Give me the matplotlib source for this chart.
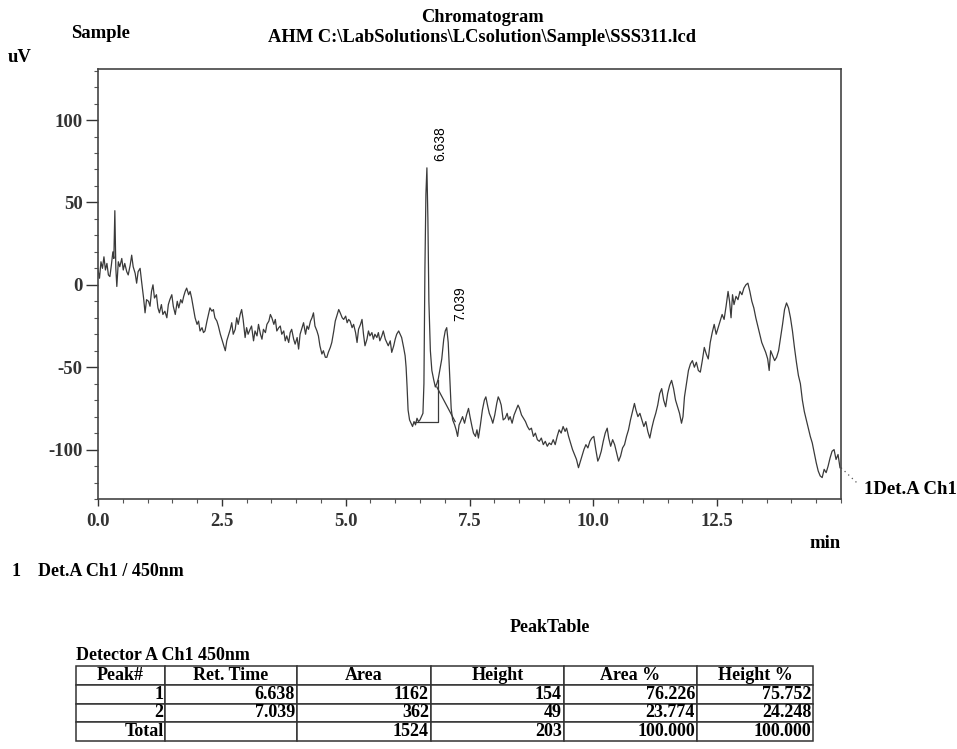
import numpy as np
import matplotlib
matplotlib.use("Agg")
import matplotlib.pyplot as plt
from matplotlib.ticker import MultipleLocator, FormatStrFormatter

plt.rcParams['font.family'] = ['Liberation Serif', 'DejaVu Serif']
plt.rcParams['font.weight'] = 'bold'

# chromatogram trace (min, uV)
t = [0.00, 0.03, 0.06, 0.09, 0.12, 0.15, 0.18, 0.21, 0.24, 0.27, 0.30, 0.32, 0.34, 0.36, 0.38,
     0.41, 0.44, 0.48, 0.51, 0.54, 0.58, 0.61, 0.65, 0.68, 0.71, 0.75, 0.78, 0.81, 0.85, 0.88,
     0.92, 0.95, 0.98, 1.02, 1.05, 1.08, 1.11, 1.14, 1.18, 1.21, 1.24, 1.28, 1.31, 1.35, 1.39,
     1.42, 1.45, 1.49, 1.52, 1.56, 1.60, 1.63, 1.67, 1.70, 1.73, 1.76, 1.79, 1.83, 1.86, 1.89,
     1.93, 1.96, 2.00, 2.03, 2.06, 2.10, 2.13, 2.16, 2.20, 2.23, 2.26, 2.30, 2.33, 2.36, 2.40,
     2.43, 2.47, 2.50, 2.54, 2.57, 2.60, 2.64, 2.67, 2.70, 2.73, 2.77, 2.80, 2.83, 2.87, 2.90,
     2.93, 2.97, 3.00, 3.03, 3.07, 3.10, 3.14, 3.17, 3.21, 3.24, 3.28, 3.31, 3.34, 3.38, 3.41,
     3.45, 3.48, 3.51, 3.55, 3.58, 3.61, 3.65, 3.68, 3.71, 3.75, 3.78, 3.81, 3.85, 3.88, 3.91,
     3.95, 3.98, 4.02, 4.05, 4.08, 4.12, 4.15, 4.19, 4.22, 4.25, 4.29, 4.32, 4.35, 4.38, 4.42,
     4.45, 4.48, 4.52, 4.55, 4.59, 4.62, 4.65, 4.69, 4.72, 4.76, 4.79, 4.83, 4.86, 4.89, 4.93,
     4.96, 5.00, 5.03, 5.06, 5.09, 5.13, 5.16, 5.20, 5.23, 5.26, 5.30, 5.33, 5.36, 5.39, 5.43,
     5.46, 5.49, 5.53, 5.56, 5.59, 5.63, 5.66, 5.69, 5.73, 5.76, 5.80, 5.83, 5.86, 5.90, 5.93,
     5.97, 6.00, 6.03, 6.07, 6.10, 6.13, 6.17, 6.20, 6.22, 6.24, 6.26, 6.29, 6.32, 6.35, 6.38,
     6.41, 6.44, 6.47, 6.50, 6.53, 6.56, 6.58, 6.60, 6.62, 6.64, 6.66, 6.68, 6.71, 6.74, 6.78,
     6.81, 6.84, 6.87, 6.90, 6.94, 6.98, 7.01, 7.04, 7.07, 7.10, 7.13, 7.16, 7.20, 7.23, 7.26,
     7.29, 7.32, 7.36, 7.40, 7.44, 7.48, 7.51, 7.55, 7.58, 7.62, 7.65, 7.68, 7.72, 7.76, 7.80,
     7.83, 7.87, 7.90, 7.94, 7.97, 8.01, 8.05, 8.08, 8.11, 8.14, 8.18, 8.22, 8.26, 8.29, 8.32,
     8.36, 8.40, 8.44, 8.48, 8.51, 8.55, 8.59, 8.63, 8.67, 8.71, 8.75, 8.79, 8.83, 8.87, 8.91,
     8.95, 8.99, 9.03, 9.07, 9.11, 9.15, 9.19, 9.23, 9.27, 9.31, 9.35, 9.39, 9.43, 9.46, 9.50,
     9.54, 9.58, 9.62, 9.66, 9.70, 9.73, 9.77, 9.81, 9.85, 9.89, 9.93, 9.97, 10.01, 10.05, 10.09,
     10.12, 10.16, 10.20, 10.24, 10.28, 10.31, 10.35, 10.39, 10.43, 10.47, 10.51, 10.55, 10.59, 10.63, 10.67,
     10.71, 10.75, 10.79, 10.83, 10.86, 10.90, 10.94, 10.98, 11.02, 11.06, 11.10, 11.14, 11.18, 11.22, 11.26,
     11.30, 11.34, 11.38, 11.42, 11.46, 11.50, 11.54, 11.58, 11.62, 11.66, 11.70, 11.74, 11.78, 11.81, 11.84,
     11.88, 11.92, 11.96, 12.00, 12.04, 12.08, 12.12, 12.16, 12.20, 12.24, 12.28, 12.32, 12.36, 12.40, 12.44,
     12.48, 12.52, 12.56, 12.60, 12.64, 12.68, 12.72, 12.75, 12.78, 12.81, 12.84, 12.88, 12.92, 12.96, 13.00,
     13.04, 13.08, 13.12, 13.16, 13.20, 13.24, 13.28, 13.32, 13.36, 13.40, 13.44, 13.48, 13.52, 13.55, 13.58,
     13.62, 13.66, 13.70, 13.74, 13.78, 13.82, 13.86, 13.90, 13.94, 13.98, 14.02, 14.06, 14.10, 14.14, 14.18,
     14.22, 14.26, 14.30, 14.34, 14.38, 14.42, 14.46, 14.50, 14.54, 14.58, 14.62, 14.66, 14.70, 14.74, 14.78,
     14.82, 14.86, 14.90, 14.94, 14.98]
uv = [9, 4, 14, 10, 17, 9, 13, 6, 5, 12, 20, 16, 45, 10, -1,
      14, 11, 16, 9, 13, 8, 6, 12, 18, 11, 7, 1, 8, 10, 2,
      -8, -17, -9, -10, -13, -4, 0, -8, -6, -14, -17, -12, -18, -16, -20,
      -12, -9, -6, -13, -18, -10, -14, -9, -11, -7, -4, -2, -6, -4, -8,
      -15, -20, -24, -22, -28, -26, -29, -28, -22, -18, -14, -16, -15, -20, -22,
      -25, -30, -33, -37, -40, -34, -30, -27, -23, -30, -27, -20, -24, -18, -15,
      -21, -32, -26, -30, -27, -25, -34, -28, -31, -24, -30, -33, -27, -29, -24,
      -22, -18, -20, -24, -21, -28, -26, -25, -30, -28, -34, -31, -35, -29, -27,
      -33, -36, -32, -39, -30, -26, -23, -30, -25, -27, -22, -20, -17, -25, -28,
      -31, -37, -42, -40, -44, -44, -41, -38, -35, -28, -22, -18, -15, -17, -20,
      -21, -19, -23, -21, -22, -26, -24, -29, -35, -27, -24, -21, -30, -37, -33,
      -28, -31, -29, -33, -30, -32, -29, -34, -31, -28, -33, -35, -37, -34, -41,
      -37, -33, -30, -28, -30, -32, -38, -43, -50, -62, -76, -82, -84, -86, -83,
      -85, -81, -83, -82, -80, -78, -60, 10, 55, 71, 40, -10, -40, -52, -58,
      -62, -60, -57, -52, -45, -33, -28, -26, -35, -55, -75, -82, -85, -88, -92,
      -85, -83, -80, -84, -79, -75, -80, -86, -90, -92, -88, -93, -85, -76, -70,
      -68, -74, -78, -81, -84, -79, -72, -68, -70, -73, -82, -81, -78, -82, -80,
      -84, -79, -76, -73, -75, -79, -81, -83, -86, -88, -87, -92, -90, -94, -95,
      -93, -97, -95, -98, -96, -97, -94, -97, -92, -88, -90, -86, -89, -87, -92,
      -96, -100, -103, -106, -111, -108, -104, -100, -97, -99, -95, -93, -92, -100, -107,
      -105, -101, -95, -90, -87, -93, -98, -94, -97, -102, -107, -104, -99, -97, -92,
      -88, -82, -77, -72, -76, -80, -78, -82, -86, -83, -89, -93, -87, -82, -78,
      -73, -66, -63, -70, -74, -66, -61, -58, -63, -70, -74, -78, -84, -80, -68,
      -60, -52, -48, -46, -50, -47, -52, -53, -46, -38, -42, -45, -35, -29, -24,
      -30, -26, -22, -18, -21, -13, -4, -10, -20, -6, -12, -7, -9, -4, -6,
      -2, 0, 1, -4, -10, -14, -20, -25, -30, -35, -38, -41, -45, -52, -40,
      -43, -46, -44, -40, -32, -24, -15, -11, -14, -20, -28, -38, -47, -55, -60,
      -70, -77, -82, -87, -92, -96, -102, -108, -113, -116, -117, -112, -114, -110, -105,
      -101, -100, -106, -103, -111]

# integration baselines
base1_t = [6.40, 6.87, 6.87]
base1_v = [-83, -83, -58]
base2_t = [6.84, 7.21]
base2_v = [-62, -83]

# peak table
peak_no = ["1", "2"]
ret_time = ["6.638", "7.039"]
apex_uv = [71, -26]
area = [1162, 362]
height = [154, 49]
area_pct = [76.226, 23.774]
height_pct = [75.752, 24.248]

W, H = 957, 749
fig = plt.figure(figsize=(W / 100, H / 100), dpi=100)


def fx(px):
    return px / W


def fy(py):
    return 1 - py / H


ax = fig.add_axes([fx(98), fy(499), fx(841) - fx(98), fy(69) - fy(499)])
ax.plot(t, uv, color='#3a3a3a', lw=0.9)
ax.plot(base1_t, base1_v, color='#3a3a3a', lw=0.9)
ax.plot(base2_t, base2_v, color='#3a3a3a', lw=0.9)
ax.plot([15.0, 15.35], [-111, -121], color='#555555', lw=0.9, ls=(0, (1, 3)), clip_on=False)

for rt, v in zip(ret_time, apex_uv):
    ax.text(float(rt) + 0.27, v + 4, rt, rotation=90, ha='center', va='bottom',
            fontsize=10, family='Liberation Sans', fontweight='normal')

ax.set_xlim(0, 15.0)
ax.set_ylim(-130, 131)
ax.xaxis.set_major_locator(MultipleLocator(2.5))
ax.xaxis.set_minor_locator(MultipleLocator(0.5))
ax.yaxis.set_major_locator(MultipleLocator(50))
ax.yaxis.set_minor_locator(MultipleLocator(10))
ax.xaxis.set_major_formatter(FormatStrFormatter('%.1f'))
ax.yaxis.set_major_formatter(FormatStrFormatter('%d'))
ax.set_xticks([0, 2.5, 5, 7.5, 10, 12.5])
ax.tick_params(which='major', direction='out', length=5, width=1, colors='#333333',
               labelsize=13.5, pad=5)
ax.tick_params(which='minor', direction='out', length=3, width=0.8, colors='#555555')
ax.tick_params(axis='y', which='major', length=9, pad=2)
for lab in ax.get_xticklabels() + ax.get_yticklabels():
    lab.set_fontweight('bold')
for s in ax.spines.values():
    s.set_color('#444444')
    s.set_linewidth(1.2)

# header texts
fig.text(fx(482), fy(17), "Chromatogram", ha='center', va='center', fontsize=13.2)
fig.text(fx(482), fy(37), r"AHM C:\LabSolutions\LCsolution\Sample\SSS311.lcd",
         ha='center', va='center', fontsize=13.3)
fig.text(fx(101), fy(33), "Sample", ha='center', va='center', fontsize=13.4)
fig.text(fx(8), fy(58), "uV", ha='left', va='center', fontsize=13.5)
fig.text(fx(841), fy(543), "min", ha='right', va='center', fontsize=13.5)
fig.text(fx(864), fy(490), "1Det.A Ch1", ha='left', va='center', fontsize=13.5)
fig.text(fx(12), fy(571), "1", ha='left', va='center', fontsize=13)
fig.text(fx(38), fy(571), "Det.A Ch1 / 450nm", ha='left', va='center', fontsize=13)
fig.text(fx(550), fy(627), "PeakTable", ha='center', va='center', fontsize=13)
fig.text(fx(76), fy(655), "Detector A Ch1 450nm", ha='left', va='center', fontsize=13)

# peak table
header = ["Peak#", "Ret. Time", "Area", "Height", "Area %", "Height %"]
rows = [header]
for i in range(len(peak_no)):
    rows.append([peak_no[i], ret_time[i], str(area[i]), str(height[i]),
                 f"{area_pct[i]:.3f}", f"{height_pct[i]:.3f}"])
rows.append(["Total", "", str(sum(area)), str(sum(height)),
             f"{sum(area_pct):.3f}", f"{sum(height_pct):.3f}"])

col_px = [76, 165, 297, 431, 564, 697, 813]
col_w = np.diff(col_px) / (col_px[-1] - col_px[0])
tax = fig.add_axes([fx(76), fy(741), fx(813) - fx(76), fy(666) - fy(741)])
tax.axis('off')
tbl = tax.table(cellText=rows, colWidths=list(col_w), bbox=[0, 0, 1, 1], cellLoc='right')
tbl.auto_set_font_size(False)
for (r, c), cell in tbl.get_celld().items():
    cell.set_linewidth(1.1)
    cell.set_edgecolor('#333333')
    cell.get_text().set_fontsize(13)
    cell.get_text().set_fontweight('bold')
    cell.PAD = 0.015
    if r == 0:
        cell.get_text().set_ha('center')
        cell._loc = 'center'

fig.savefig("out.png", dpi=100)
